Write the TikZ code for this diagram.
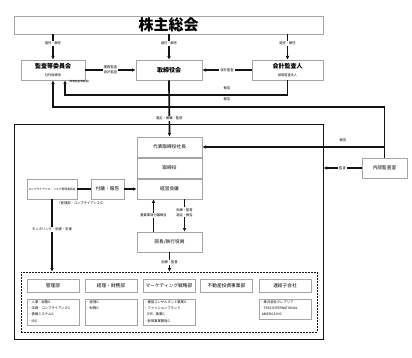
\documentclass[tikz,border=0pt]{standalone}
\usepackage{fontspec}
\setmainfont{Noto Sans CJK JP}
\usepackage{xcolor}
\usetikzlibrary{arrows.meta, positioning, calc}
\definecolor{inkblack}{RGB}{20, 20, 20}
\definecolor{boxgray}{RGB}{165, 165, 165}
\tikzset{
    blk/.style    ={draw=boxgray, line width=0.8pt, fill=white, inner sep=0pt,
                    minimum width=65pt, minimum height=20pt,
                    align=center, font=\fontsize{4.7}{6}\selectfont},
    midblk/.style ={blk, font=\fontsize{6}{7}\selectfont\bfseries},
    topblk/.style ={blk, minimum width=309pt, minimum height=18pt,
                    font=\fontsize{15}{16}\selectfont\bfseries},
    frame/.style  ={draw=inkblack, line width=0.9pt, inner sep=0pt},
    dashbox/.style={draw=inkblack, dashed, dash pattern=on 2pt off 1pt,
                    line width=0.6pt, inner sep=0pt},
    dept/.style   ={blk, minimum width=52pt, minimum height=13pt},
    detail/.style ={blk, minimum width=52pt, minimum height=26pt},
    item/.style   ={anchor=north west, align=left, inner sep=1.6pt,
                    font=\fontsize{3.3}{6.3}\selectfont},
    ar/.style     ={-{Latex[length=3.6pt, width=3.6pt]}, line width=1.7pt, draw=inkblack},
    ln/.style     ={line width=1.7pt, draw=inkblack},
    lbl/.style    ={font=\fontsize{3.3}{5}\selectfont, inner sep=1pt, fill=white, align=center},
    tinylbl/.style={font=\fontsize{2.6}{3.5}\selectfont, inner sep=0pt}
}
\newcommand{\subtxt}[1]{{\fontsize{3.2}{4}\selectfont\mdseries #1}}

\begin{document}
\begin{tikzpicture}[x=1pt, y=-1pt]
  \useasboundingbox (0,0) rectangle (412,358);

  % top tier
  \node[topblk] (gm) at (168.5,25) {株主総会};
  \node[midblk, minimum width=64pt] (ac) at (53,70) {監査等委員会\\[0.5pt]\subtxt{社外取締役}};
  \node[midblk, minimum width=66pt] (bd) at (169,70) {取締役会};
  \node[midblk, minimum width=71pt] (aa) at (287.5,70) {会計監査人\\[0.5pt]\subtxt{城南監査法人}};

  \foreach \n in {ac,bd,aa}
    \draw[ar] (gm.south -| \n) -- node[lbl, pos=0.35] {選任・解任} (\n.north);

  \draw[ar] (ac.east) -- node[lbl] {業務監査\\会計監査} (bd.west);
  \draw[ar] (aa.west) -- node[lbl] {会計監査} (bd.east);

  % executive frame
  \node[frame, minimum width=309pt, minimum height=215pt] (fr) at (168.5,231.5) {};
  \node[blk] (pres) at (169.5,147) {代表取締役社長};
  \node[blk] (dirs) at (169.5,168) {取締役};
  \node[blk] (mtg)  at (169.5,189) {経営会議};
  \node[blk] (ex)   at (169.5,242) {部長/執行役員};
  \node[blk, minimum width=45pt] (ia) at (384.5,168) {内部監査室};

  % reporting lines
  \draw[ar] (aa.south) -- (aa.south |- 0,95) -| ([xshift=12pt]ac.south);
  \node[lbl, fill=none] (rep1) at (227,88) {報告};
  \node[tinylbl] (acnote) at (79,82) {（常勤監査等委員）};
  \draw[ar] (ia.north) -- (ia.north |- 0,107) -| (ac.south);
  \node[lbl, fill=none] (rep2) at (227,99) {報告};
  \draw[ar] (ia.north |- pres.east) -- (pres.east);
  \node[lbl, fill=none] (rep3) at (343,140) {報告};
  \draw[ar] (bd.south) -- node[lbl, pos=0.68] {選定・解職・監督} (pres.north);
  \draw[ar] (ia.west) -- node[lbl] {監査} (fr.east |- ia.west);

  % compliance
  \node[blk, minimum width=50pt, font=\fontsize{2.8}{3.5}\selectfont] (cmp) at (52,189)
       {コンプライアンス・リスク管理委員会};
  \node[blk, minimum width=33pt] (ref) at (107.5,189) {付議・報告};
  \draw[ln] (cmp) -- (ref);
  \draw[ar] (ref) -- (mtg);
  \node[lbl, fill=none] (cmpnote) at (81.5,203) {（管理部・コンプライアンスG）};

  % departments
  \node[dashbox, minimum width=296pt, minimum height=60pt] (dsh) at (169,302) {};
  \draw[ar] (cmp.south) -- node[lbl, pos=0.41] {モニタリング・指導・支援} (cmp.south |- dsh.north);
  \draw[ar] ([xshift=-16pt]ex.north) -- node[lbl] {重要事項付議報告} ([xshift=-16pt]mtg.south);
  \draw[ar] ([xshift=15pt]mtg.south) -- node[lbl, pos=0.4] {指揮・監督\\選定・報告} ([xshift=15pt]ex.north);
  \draw[ar] (ex.south) -- node[lbl] {指揮・監督} (ex.south |- dsh.north);

  \foreach \x/\n/\t in {53/d1/管理部, 111/d2/経理・財務部, 169/d3/マーケティング戦略部,
                        226.5/d4/不動産投資事業部, 285/d5/連結子会社}
    \node[dept] (\n) at (\x,285.5) {\t};

  \node[detail] (l1) at (53,312) {};
  \node[item] (t1) at (l1.north west) {・人事・総務G\\・法務・コンプライアンスG\\・情報システムG\\・IRG};
  \node[detail] (l2) at (111,312) {};
  \node[item] (t2) at (l2.north west) {・経理G\\・財務G};
  \node[detail] (l3) at (169,312) {};
  \node[item] (t3) at (l3.north west) {・建設コンサルタント事業G\\・ファッションブランド\\\ （FB）事業G\\・新規事業開発G};
  \node[detail, minimum height=20pt] (l5) at (285,309) {};
  \node[item] (t5) at (l5.north west) {・株式会社クレアリア\\・TRIIS INTERNATIONAL\\\ \ AMERICA INC.};
\end{tikzpicture}
\end{document}
